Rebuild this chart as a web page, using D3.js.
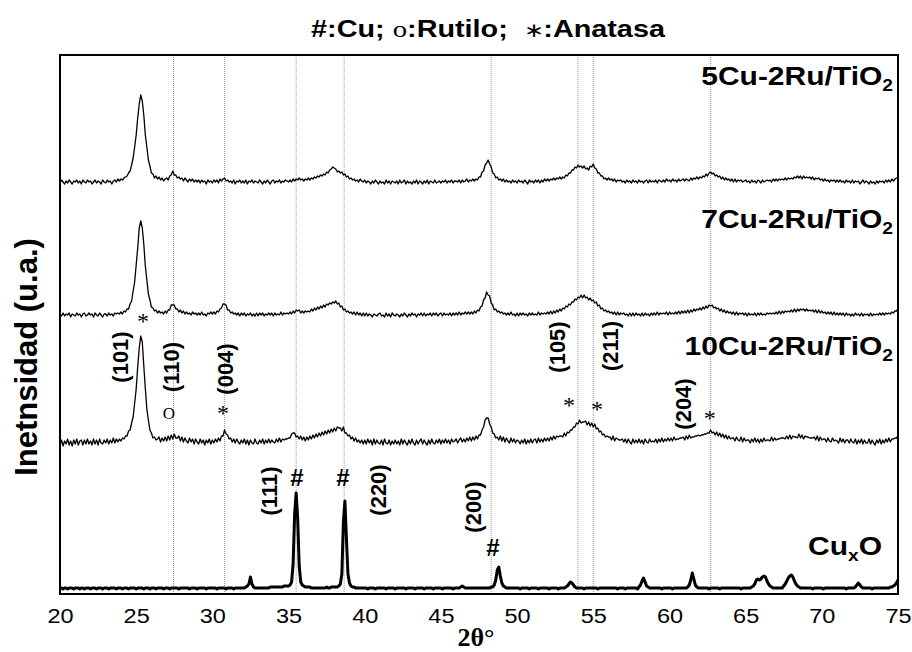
<!DOCTYPE html>
<html>
<head>
<meta charset="utf-8">
<script src="https://cdn.jsdelivr.net/npm/d3@7/dist/d3.min.js"></script>
<style>
  body { margin: 0; background: #fff; }
  svg { display: block; }
</style>
</head>
<body>
<svg id="chart" width="912" height="652"></svg>
<script>
// XRD scans: 2θ from 20° to 75°, step 0.1° (551 points per pattern), intensities in a.u.
const scanStart = 20;
const scanStep = 0.1;

const xTicks = [20, 25, 30, 35, 40, 45, 50, 55, 60, 65, 70, 75];

// 5Cu-2Ru/TiO2
const cu5 = [
  5,8,6,4,7,5,8,6,4,7,
  6,8,5,7,4,8,6,5,8,6,
  7,4,6,8,5,7,6,4,8,6,
  5,8,6,7,4,7,8,6,9,7,
  9,8,10,11,12,15,17,23,30,41,
  53,70,84,93,87,73,53,41,28,22,
  15,14,10,12,9,11,8,10,7,9,
  10,8,12,13,17,13,13,10,11,9,
  10,7,10,8,6,9,7,9,6,8,
  6,8,5,8,6,7,4,8,6,7,
  5,8,6,8,5,9,7,9,10,7,
  8,6,7,5,8,4,7,6,8,5,
  7,5,8,4,7,6,8,5,7,6,
  5,8,6,4,7,5,8,6,4,7,
  8,5,7,6,8,5,7,6,8,7,
  6,8,6,9,7,9,8,10,8,9,
  7,9,8,10,8,10,9,11,10,12,
  11,13,12,14,13,16,15,18,19,21,
  20,19,16,17,15,16,13,14,11,12,
  9,10,8,9,7,8,6,9,7,6,
  8,5,7,6,4,7,5,8,6,4,
  7,5,6,4,8,5,7,4,7,6,
  5,7,4,8,5,6,8,4,7,5,
  6,4,7,5,8,4,7,6,4,7,
  5,8,4,7,6,5,8,5,6,7,
  5,7,6,8,5,7,6,8,5,7,
  7,6,8,5,8,6,7,9,6,8,
  7,9,7,9,8,11,11,16,17,23,
  25,28,24,21,15,14,10,11,8,9,
  7,9,6,8,6,7,5,8,6,7,
  5,8,6,7,5,8,6,4,8,6,
  7,5,8,6,8,5,8,6,9,7,
  9,7,9,8,10,8,10,9,11,9,
  11,10,13,12,15,15,18,18,21,20,
  23,21,22,20,22,19,20,18,22,21,
  24,20,19,15,15,12,12,9,10,8,
  10,8,9,7,9,6,8,7,8,6,
  7,5,8,6,7,5,8,6,7,5,
  8,6,7,5,7,8,5,8,6,7,
  6,8,5,8,7,6,8,6,9,7,
  8,6,9,7,8,6,9,7,8,9,
  7,9,8,7,10,8,10,9,11,9,
  11,10,12,11,14,12,15,16,14,15,
  12,13,11,12,9,11,8,10,8,9,
  7,9,6,9,6,8,7,8,6,7,
  8,6,7,5,8,6,7,5,8,7,
  5,8,6,7,8,7,8,6,9,7,
  9,7,9,8,9,8,10,8,10,9,
  10,9,11,10,12,10,12,9,12,10,
  11,10,11,9,11,8,10,9,10,8,
  9,7,9,7,8,6,8,7,8,6,
  8,6,8,6,7,5,8,6,7,5,
  8,5,7,6,7,4,6,8,5,7,
  6,4,7,5,6,4,7,5,7,6,
  7,5,8,6,8,6,9,7,9,10,
  11
];

// 7Cu-2Ru/TiO2
const cu7 = [
  7,5,8,5,7,6,8,4,7,6,
  5,8,6,7,4,7,8,5,6,8,
  6,7,4,8,6,5,8,6,4,7,
  7,5,8,6,7,5,8,7,8,7,
  9,7,10,9,12,12,17,20,30,39,
  56,73,93,100,93,77,55,41,27,21,
  14,13,10,11,8,10,8,9,7,10,
  8,11,11,16,16,16,12,12,9,11,
  8,10,7,9,7,8,6,9,7,8,
  6,8,6,9,6,7,5,8,7,9,
  7,9,7,10,9,12,13,17,17,16,
  11,11,8,9,7,8,6,8,5,8,
  6,8,5,7,6,8,5,7,5,8,
  5,8,6,8,5,7,6,8,6,8,
  5,8,6,7,6,9,6,8,7,8,
  7,9,7,10,8,11,10,11,8,10,
  8,10,9,10,9,12,10,13,11,14,
  12,15,13,16,14,17,16,18,17,19,
  18,20,17,18,14,15,11,12,9,10,
  8,9,7,9,6,9,6,8,5,8,
  5,8,5,7,6,4,7,6,5,7,
  8,5,6,4,8,5,7,4,8,6,
  5,7,6,4,7,5,8,6,4,7,
  5,8,6,7,4,7,6,8,5,8,
  5,7,6,8,5,8,6,8,5,7,
  8,5,8,6,7,6,8,5,8,6,
  8,6,9,6,8,7,9,7,9,7,
  9,7,10,8,11,10,14,15,21,23,
  29,26,25,18,16,11,12,9,10,8,
  9,7,8,6,8,6,9,6,7,5,
  8,5,8,6,8,6,7,5,8,6,
  8,6,7,6,9,6,8,7,8,7,
  9,7,10,7,10,8,11,9,12,10,
  13,12,15,14,17,16,19,19,22,21,
  24,23,26,23,26,23,24,21,23,20,
  21,18,19,15,16,12,13,10,11,9,
  10,8,9,7,9,6,9,6,8,7,
  8,6,7,5,8,5,8,5,8,6,
  7,5,8,5,8,6,7,5,8,6,
  8,6,9,6,8,7,8,7,9,6,
  9,7,8,7,9,7,10,7,10,8,
  10,8,11,8,11,9,12,10,12,11,
  13,11,14,12,15,13,16,15,16,13,
  14,12,13,10,12,9,11,8,10,8,
  9,7,9,6,9,6,8,7,8,6,
  8,5,8,6,7,6,8,5,8,6,
  8,6,7,6,8,7,8,7,8,7,
  9,7,10,7,10,8,10,9,10,9,
  11,9,12,9,12,10,12,11,12,10,
  12,10,11,10,11,9,11,8,11,8,
  10,8,9,7,9,7,9,6,9,6,
  8,6,8,6,8,5,8,6,7,5,
  7,5,8,6,7,5,8,5,7,6,
  7,5,8,5,7,6,7,6,8,6,
  8,6,8,7,8,7,9,8,10,10,
  12
];

// 10Cu-2Ru/TiO2
const cu10 = [
  4,9,3,8,5,10,4,8,3,9,
  5,10,4,8,9,4,9,5,10,5,
  8,4,10,5,9,4,10,6,5,9,
  6,10,5,9,6,11,6,10,7,10,
  8,11,10,13,13,18,19,26,32,46,
  60,82,101,113,107,83,61,40,29,19,
  16,11,12,9,10,12,7,11,8,12,
  8,13,9,14,10,15,11,11,13,8,
  12,7,11,8,6,11,7,10,5,10,
  7,5,10,6,9,4,9,6,10,5,
  9,6,10,7,11,8,13,13,19,15,
  14,10,11,7,10,6,10,7,5,9,
  6,10,5,9,4,9,6,5,10,6,
  5,9,6,10,5,9,6,10,6,9,
  7,6,10,7,11,7,10,9,10,10,
  11,11,15,16,16,12,13,10,13,9,
  12,8,12,9,13,10,14,11,15,12,
  16,13,17,14,18,15,19,16,20,17,
  21,18,22,21,21,18,22,16,16,13,
  14,10,12,8,11,7,9,6,9,5,
  9,5,10,6,9,4,10,5,9,6,
  5,9,4,10,6,5,9,4,8,5,
  9,5,8,4,10,5,9,6,4,9,
  5,10,6,4,9,5,8,10,5,9,
  6,4,9,5,10,6,5,9,6,10,
  5,9,6,10,6,9,5,10,7,8,
  10,6,9,11,7,10,7,11,8,12,
  8,12,9,13,10,14,14,19,22,29,
  31,31,25,22,16,15,11,12,9,13,
  8,12,7,11,8,6,11,7,10,6,
  9,8,5,9,6,10,5,9,6,10,
  6,9,10,6,11,7,10,7,11,8,
  11,8,12,9,13,10,13,12,13,13,
  12,16,13,17,16,19,19,22,22,26,
  25,29,26,27,27,28,24,27,23,26,
  22,25,20,21,17,18,14,15,12,13,
  12,12,9,13,8,11,10,9,9,10,
  7,10,6,10,7,5,10,6,9,6,
  10,6,9,5,10,7,6,10,7,8,
  7,10,6,10,7,11,7,10,8,11,
  8,11,8,12,9,10,10,11,11,12,
  9,13,10,14,11,12,12,13,13,14,
  13,14,14,15,15,16,16,19,16,17,
  14,17,13,16,12,15,11,14,10,13,
  10,11,11,8,12,9,8,12,7,11,
  8,9,9,6,10,7,11,7,10,6,
  10,7,11,8,9,9,8,12,8,11,
  9,10,10,11,11,11,10,13,10,14,
  10,13,12,12,11,15,11,14,10,13,
  12,12,11,11,11,12,9,13,8,12,
  9,10,10,7,11,8,7,11,8,9,
  8,6,11,7,10,6,9,9,6,10,
  7,6,10,5,9,6,10,5,9,6,
  6,10,5,9,6,4,9,6,10,5,
  9,6,10,7,11,7,10,10,11,11,
  13
];

// CuxO
const cuxo = [
  6,6,5,6,6,5,6,6,6,5,
  6,6,6,5,6,6,5,6,6,6,
  5,6,6,6,5,6,6,6,5,6,
  6,6,5,6,6,6,6,5,6,6,
  6,5,6,6,6,5,6,6,6,6,
  5,6,6,6,6,5,6,6,6,5,
  6,6,6,5,6,6,6,6,5,6,
  6,6,5,6,6,6,6,6,5,6,
  6,6,6,6,6,5,6,6,6,6,
  5,6,6,6,6,6,5,6,6,6,
  6,6,6,5,6,6,6,6,6,5,
  6,6,6,6,5,6,6,6,6,6,
  6,6,7,8,10,17,10,7,6,6,
  6,6,6,6,6,6,6,6,7,7,
  7,7,7,7,7,7,7,8,8,8,
  8,9,12,30,80,101,75,28,12,9,
  8,7,7,7,7,6,6,6,6,6,
  6,6,6,6,6,7,6,6,7,7,
  7,7,7,8,10,20,72,93,55,20,
  11,8,7,7,6,6,6,6,6,6,
  6,6,5,6,6,6,6,5,6,6,
  6,6,6,6,5,6,6,6,6,6,
  5,6,6,6,6,6,6,5,6,6,
  6,6,6,5,6,6,6,6,6,5,
  6,6,6,6,6,5,6,6,6,6,
  6,5,6,6,6,6,6,6,5,6,
  6,6,6,7,8,7,6,6,6,6,
  6,6,6,6,6,6,6,6,6,6,
  6,6,6,7,7,9,14,24,27,18,
  11,8,7,6,6,6,6,6,6,6,
  6,6,5,6,6,6,6,6,5,6,
  6,6,6,6,5,6,6,6,6,6,
  6,5,6,6,6,6,6,5,6,6,
  6,6,7,8,10,12,11,9,7,6,
  6,6,6,6,5,6,6,6,6,6,
  6,6,6,5,6,6,6,6,6,6,
  6,6,6,6,6,6,5,6,6,6,
  6,5,6,6,6,6,6,6,6,5,
  7,9,13,16,12,8,7,6,6,6,
  6,6,6,6,6,5,6,6,6,6,
  6,6,5,6,6,6,6,6,6,6,
  6,6,7,9,14,21,15,9,7,6,
  6,6,6,6,6,6,5,6,6,6,
  6,6,6,5,6,6,6,6,6,6,
  6,6,6,6,6,6,6,5,6,6,
  6,6,6,6,7,8,10,14,15,14,
  15,17,18,17,13,10,8,7,6,6,
  6,6,6,6,6,8,10,13,16,18,
  19,17,13,10,8,7,6,6,6,6,
  6,6,6,6,5,6,6,6,6,6,
  6,5,6,6,6,6,6,6,6,6,
  6,6,6,6,6,6,5,6,6,6,
  6,6,7,9,11,9,7,6,6,6,
  6,6,6,5,6,6,6,6,6,6,
  6,6,6,6,6,7,7,8,9,11,
  14
];

// Reference lines (2θ, degrees)
const refLines = [27.45, 30.8, 35.5, 38.65, 48.3, 54.0, 55.0, 62.7];

// Miller indices, anchored at (2θ, a.u.)
const hklLabels = [
  { text: "(101)", t: 24.0,  v: 237 },
  { text: "(110)", t: 27.35, v: 227 },
  { text: "(004)", t: 30.9,  v: 225 },
  { text: "(105)", t: 52.74, v: 247 },
  { text: "(211)", t: 56.2,  v: 248 },
  { text: "(204)", t: 61.0,  v: 190 },
  { text: "(111)", t: 33.78, v: 103 },
  { text: "(220)", t: 40.93, v: 104 },
  { text: "(200)", t: 47.23, v: 87 }
];

// Phase markers: * anatase, O rutile, # Cu
const phaseMarks = [
  { mark: "*", t: 25.45, v: 276 },
  { mark: "O", t: 27.15, v: 181 },
  { mark: "*", t: 30.7,  v: 184 },
  { mark: "*", t: 53.4,  v: 192 },
  { mark: "*", t: 55.24, v: 188 },
  { mark: "*", t: 62.65, v: 179 },
  { mark: "#", t: 35.55, v: 117 },
  { mark: "#", t: 38.57, v: 117 },
  { mark: "#", t: 48.41, v: 47 }
];

const patterns = [
  { name: "5Cu-2Ru/TiO", sub: "2", values: cu5,  offset: 406, labelV: 509, heavy: false },
  { name: "7Cu-2Ru/TiO", sub: "2", values: cu7,  offset: 273, labelV: 366, heavy: false },
  { name: "10Cu-2Ru/TiO", sub: "2", values: cu10, offset: 145, labelV: 239, heavy: false },
  { name: "Cu", sub: "x", tail: "O", values: cuxo, offset: 0, labelV: 39, heavy: true }
];

const sans = "'Liberation Sans', Arial, Helvetica, sans-serif";
const serif = "'Liberation Serif', 'Times New Roman', serif";
const stretch = 1.2;

const svg = d3.select("#chart");
const plot = { left: 60, right: 898, top: 55, bottom: 594 };

const x = d3.scaleLinear().domain([20, 75]).range([plot.left, plot.right]);
const y = d3.scaleLinear().domain([0, 539]).range([plot.bottom, plot.top]);

// dotted reference lines
svg.append("g")
  .selectAll("line")
  .data(refLines)
  .join("line")
  .attr("x1", d => x(d)).attr("x2", d => x(d))
  .attr("y1", plot.top).attr("y2", plot.bottom)
  .attr("stroke", "#9a9a9a")
  .attr("stroke-width", 1)
  .attr("stroke-dasharray", "1,1");

// patterns
const line = offset => d3.line()
  .x((d, i) => x(scanStart + i * scanStep))
  .y(d => y(d + offset));

svg.append("g")
  .selectAll("path")
  .data(patterns)
  .join("path")
  .attr("d", p => line(p.offset)(p.values))
  .attr("fill", "none")
  .attr("stroke", "#000")
  .attr("stroke-width", p => p.heavy ? 3 : 1.3)
  .attr("stroke-linejoin", "round");

// frame
svg.append("rect")
  .attr("x", plot.left).attr("y", plot.top)
  .attr("width", plot.right - plot.left)
  .attr("height", plot.bottom - plot.top)
  .attr("fill", "none")
  .attr("stroke", "#000")
  .attr("stroke-width", 2);

// x axis
const xAxis = d3.axisBottom(x).tickValues(xTicks).tickSize(0).tickPadding(14);
const gx = svg.append("g")
  .attr("transform", `translate(0,${plot.bottom})`)
  .call(xAxis);
gx.select(".domain").remove();
gx.selectAll("text")
  .attr("font-family", sans)
  .attr("font-size", 21)
  .attr("transform", "scale(1.12,1)")
  .attr("fill", "#000");

// axis titles
svg.append("text")
  .attr("x", 476).attr("y", 646)
  .attr("text-anchor", "middle")
  .attr("font-family", serif)
  .attr("font-weight", "bold")
  .attr("font-size", 26)
  .text("2θ°");

svg.append("text")
  .attr("transform", "translate(37,357) rotate(-90)")
  .attr("text-anchor", "middle")
  .attr("font-family", sans)
  .attr("font-weight", "bold")
  .attr("font-size", 31)
  .text("Inetnsidad (u.a.)");

// title
const title = svg.append("text")
  .attr("transform", `translate(488,37) scale(${stretch},1)`)
  .attr("text-anchor", "middle")
  .attr("font-family", sans)
  .attr("font-weight", "bold")
  .attr("font-size", 24)
  .attr("style", "white-space:pre");
title.append("tspan").text("#:Cu; ");
title.append("tspan").attr("font-family", serif).attr("font-weight", "normal").text("o");
title.append("tspan").text(":Rutilo;  ");
title.append("tspan").attr("font-weight", "normal").attr("font-size", 20).text("∗");
title.append("tspan").text(":Anatasa");

// pattern labels
patterns.forEach(p => {
  const t = svg.append("text")
    .attr("transform", `translate(${p.heavy ? 882 : 893},${y(p.labelV)}) scale(${stretch},1)`)
    .attr("text-anchor", "end")
    .attr("font-family", sans)
    .attr("font-weight", "bold")
    .attr("font-size", 25);
  t.append("tspan").text(p.name);
  t.append("tspan").attr("font-size", 16).attr("dy", 6).text(p.sub);
  if (p.tail) t.append("tspan").attr("dy", -6).text(p.tail);
});

// Miller index labels (rotated)
svg.append("g")
  .selectAll("text")
  .data(hklLabels)
  .join("text")
  .attr("transform", d => `translate(${x(d.t)},${y(d.v)}) rotate(-90)`)
  .attr("text-anchor", "middle")
  .attr("dy", "0.3em")
  .attr("font-family", sans)
  .attr("font-weight", "bold")
  .attr("font-size", 22)
  .text(d => d.text);

// phase markers
const markStyle = {
  "*": { family: serif, size: 24, weight: "normal", k: 0.47 },
  "O": { family: serif, size: 17, weight: "normal", k: 0.33 },
  "#": { family: sans, size: 24, weight: "bold", k: 0.36 }
};
svg.append("g")
  .selectAll("text")
  .data(phaseMarks)
  .join("text")
  .attr("x", d => x(d.t))
  .attr("y", d => y(d.v) + markStyle[d.mark].k * markStyle[d.mark].size)
  .attr("text-anchor", "middle")
  .attr("font-family", d => markStyle[d.mark].family)
  .attr("font-weight", d => markStyle[d.mark].weight)
  .attr("font-size", d => markStyle[d.mark].size)
  .text(d => d.mark);
</script>
</body>
</html>
